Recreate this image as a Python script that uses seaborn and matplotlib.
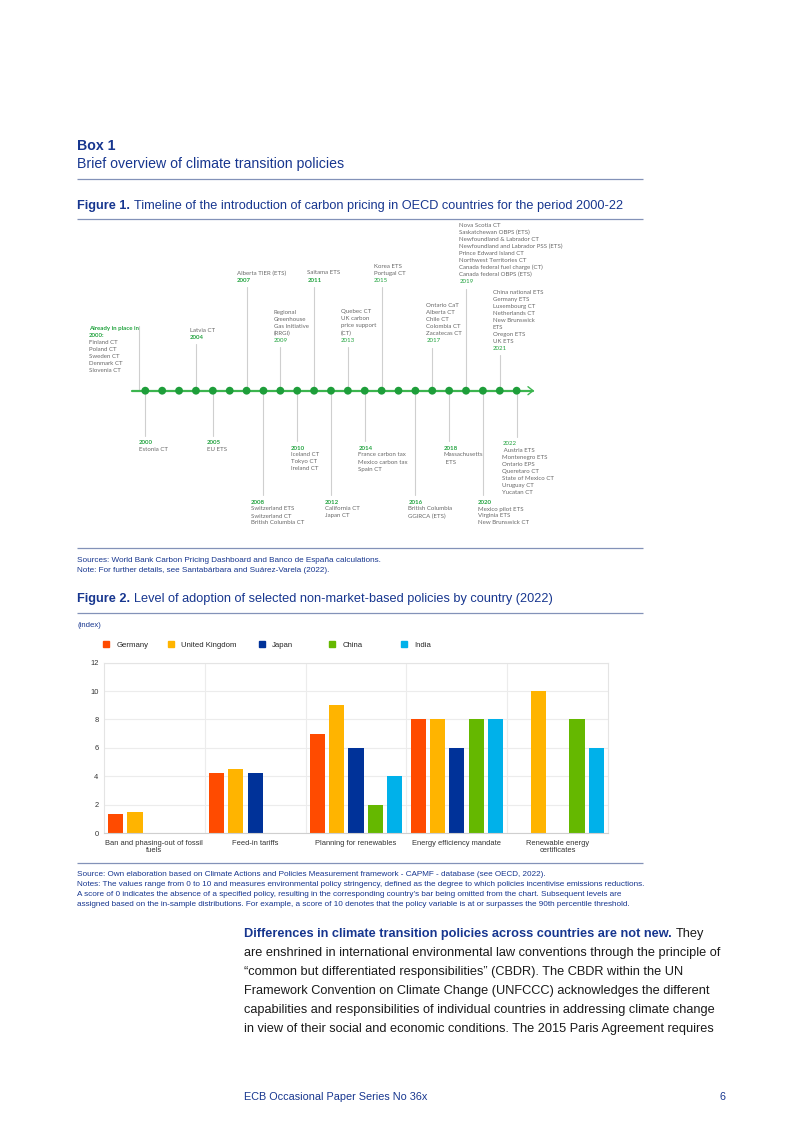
import numpy as np
import pandas as pd
import matplotlib
matplotlib.use("Agg")
import matplotlib.pyplot as plt
from matplotlib.patches import Patch
from matplotlib.legend import Legend
import seaborn as sns

W, H = 802, 1133

# ---- Figure 2 data (index, 0 = policy absent, bar omitted)
policies = ["Ban and phasing-out of fossil\nfuels", "Feed-in tariffs", "Planning for renewables",
            "Energy efficiency mandate", "Renewable energy\ncertificates"]
countries = ["Germany", "United Kingdom", "Japan", "China", "India"]
germany = [1.35, 4.25, 7, 8, 0]
united_kingdom = [1.45, 4.5, 9, 8, 10]
japan = [0, 4.25, 6, 6, 0]
china = [0, 0, 2, 8, 8]
india = [0, 0, 4, 8, 6]
country_colors = ["#FF4B00", "#FFB400", "#003299", "#65B800", "#00B1EA"]

# ---- Figure 1 data (timeline)
timeline_years = list(range(2000, 2023))
event_year = ["2000:", "2004", "2007", "2009", "2011", "2013", "2015", "2017", "2019", "2021",
              "2000", "2005", "2008", "2010", "2012", "2014", "2016", "2018", "2020", "2022"]
# dot on which each stem stands (as drawn in the original)
event_slot = [-0.4, 3, 6, 8, 10, 12, 14, 17, 19, 21,
              0, 4, 7, 9, 11, 13, 16, 18, 20, 22]
event_bold = [True, True, True, False, True, False, False, False, False, False,
              True, True, True, True, True, True, True, True, True, False]
event_schemes = [
    ["Finland CT", "Poland CT", "Sweden CT", "Denmark CT", "Slovenia CT"],
    ["Latvia CT"],
    ["Alberta TIER (ETS)"],
    ["Regional", "Greenhouse", "Gas Initiative", "(RRGI)"],
    ["Saitama ETS"],
    ["Quebec CT", "UK carbon", "price support", "(CT)"],
    ["Korea ETS", "Portugal CT"],
    ["Ontario CaT", "Alberta CT", "Chile CT", "Colombia CT", "Zacatecas CT"],
    ["Nova Scotia CT", "Saskatchewan OBPS (ETS)", "Newfoundland & Labrador CT",
     "Newfoundland and Labrador PSS (ETS)", "Prince Edward Island CT", "Northwest Territories CT",
     "Canada federal fuel charge (CT)", "Canada federal OBPS (ETS)"],
    ["China national ETS", "Germany ETS", "Luxembourg CT", "Netherlands CT", "New Brunswick",
     "ETS", "Oregon ETS", "UK ETS"],
    ["Estonia CT"],
    ["EU ETS"],
    ["Switzerland ETS", "Switzerland CT", "British Columbia CT"],
    ["Iceland CT", "Tokyo CT", "Ireland CT"],
    ["California CT", "Japan CT"],
    ["France carbon tax", "Mexico carbon tax", "Spain CT"],
    ["British Columbia", "GGIRCA (ETS)"],
    ["Massachusetts", " ETS"],
    ["Mexico pilot ETS", "Virginia ETS", "New Brunswick CT"],
    [" Austria ETS", "Montenegro ETS", "Ontario EPS", "Queretaro CT", "State of Mexico CT",
     "Uruguay CT", "Yucatan CT"],
]
# layout of the timeline labels (pixels)
label_year_y = [335.3, 337.3, 280, 340.3, 280, 340, 280, 340.7, 281.7, 348.3,
                442.7, 442.7, 502, 448, 502, 448, 502, 448, 502, 443.7]
label_dx = [-49.5, -6, -10, -6.7, -6.7, -7.3, -7.6, -6, -6.6, -7,
            -6.3, -6, -12.7, -6.7, -6, -6.3, -7, -5.6, -5, -14.4]
legend_x = [103, 168, 259, 329, 401]

sns.set_style("white")
plt.rcParams["font.family"] = ["Liberation Sans", "DejaVu Sans"]

BLUE = "#17368f"
RULE = "#8392b8"
GREEN = "#22a33f"
GREY = "#6a6a6a"

fig = plt.figure(figsize=(W / 100, H / 100), dpi=100)
page = fig.add_axes([0, 0, 1, 1])
page.set_xlim(0, W)
page.set_ylim(H, 0)
page.axis("off")
renderer = fig.canvas.get_renderer()


def line_of_parts(x, y, parts, size):
    # parts: (text, weight, color); a space is added between parts
    for i, (txt, weight, color) in enumerate(parts):
        t = page.text(x, y, txt, fontsize=size, fontweight=weight, color=color,
                      va="baseline", ha="left")
        bb = t.get_window_extent(renderer)
        x += bb.width + 0.278 * size * 100 / 72


def rule(y):
    page.plot([77, 643], [y, y], color=RULE, lw=0.9, solid_capstyle="butt")


# ---- page headings
page.text(77, 150, "Box 1", fontsize=10.2, fontweight="bold", color=BLUE, va="baseline")
page.text(77, 167.7, "Brief overview of climate transition policies", fontsize=10.2,
          color=BLUE, va="baseline")
rule(178.5)
line_of_parts(77, 209, [("Figure 1.", "bold", BLUE),
                        ("Timeline of the introduction of carbon pricing in OECD countries for the period 2000-22",
                         "normal", BLUE)], 9.2)
rule(218.5)

# ---- timeline
px_per_slot = 16.88
x0_px = 145.3
tl_y = 390.7
ax_t = fig.add_axes([77 / W, 1 - 545 / H, (643 - 77) / W, (545 - 222) / H])
ax_t.set_xlim((77 - x0_px) / px_per_slot, (643 - x0_px) / px_per_slot)
ax_t.set_ylim(545, 222)
ax_t.axis("off")

slots = np.arange(len(timeline_years))
line_end = slots[-1] + 0.97
ax_t.plot([-0.79, line_end], [tl_y, tl_y], color="#3cb54f", lw=1.6, zorder=2)
ax_t.plot([line_end - 0.3, line_end, line_end - 0.3], [tl_y - 4, tl_y, tl_y + 4],
          color="#3cb54f", lw=1.0, zorder=2)
sns.scatterplot(x=slots, y=[tl_y] * len(slots), ax=ax_t, s=32, color="#1e9e3a",
                edgecolor="none", zorder=3, legend=False)

lh = 7.0
tfont = dict(fontfamily=["Lato", "DejaVu Sans"], fontsize=4.4, va="center", ha="left")
for i, (yr, slot, bold, schemes) in enumerate(zip(event_year, event_slot, event_bold, event_schemes)):
    up = i < 10
    yy = label_year_y[i]
    tx = slot + label_dx[i] / px_per_slot
    weight = "bold" if bold else "normal"
    if i == 0:
        ax_t.plot([slot, slot], [tl_y, 326], color="#cfcfcf", lw=0.8, zorder=1)
        ax_t.text(tx, yy - lh, "Already in place in", color=GREEN, fontweight="bold", **tfont)
        ax_t.text(tx, yy, yr, color=GREEN, fontweight="bold", **tfont)
        for k, s in enumerate(schemes):
            ax_t.text(tx, yy + lh * (k + 1), s, color=GREY, **tfont)
    elif up:
        ax_t.plot([slot, slot], [tl_y, yy + 7], color="#cfcfcf", lw=0.8, zorder=1)
        ax_t.text(tx, yy, yr, color=GREEN, fontweight=weight, **tfont)
        n = len(schemes)
        for k, s in enumerate(schemes):
            ax_t.text(tx, yy - lh * (n - k), s, color=GREY, **tfont)
    else:
        ax_t.plot([slot, slot], [tl_y, yy - 7], color="#cfcfcf", lw=0.8, zorder=1)
        ax_t.text(tx, yy, yr, color=GREEN, fontweight=weight, **tfont)
        for k, s in enumerate(schemes):
            ax_t.text(tx, yy + lh * (k + 1), s, color=GREY, **tfont)

rule(548)
page.text(77, 562, "Sources: World Bank Carbon Pricing Dashboard and Banco de España calculations.",
          fontsize=5.9, color=BLUE, va="baseline")
page.text(77, 572, "Note: For further details, see Santabárbara and Suárez-Varela (2022).",
          fontsize=5.9, color=BLUE, va="baseline")

line_of_parts(77, 602, [("Figure 2.", "bold", BLUE),
                        ("Level of adoption of selected non-market-based policies by country (2022)",
                         "normal", BLUE)], 9.2)
rule(612.5)
page.text(77, 627, "(index)", fontsize=5.6, color=BLUE, va="baseline")

# ---- bar chart
df = pd.DataFrame({
    "policy": policies * len(countries),
    "country": [c for c in countries for _ in policies],
    "value": germany + united_kingdom + japan + china + india,
})
ax = fig.add_axes([104 / W, 1 - 833 / H, 504 / W, 170.3 / H])
sns.barplot(data=df, x="policy", y="value", hue="country", hue_order=countries,
            palette=country_colors, width=0.96, gap=0.22, linewidth=0, ax=ax,
            legend=False, saturation=1)
ax.set_ylim(0, 12)
ax.set_yticks(range(0, 13, 2))
ax.set_xlim(-0.5, len(policies) - 0.5)
ax.set_xlabel("")
ax.set_ylabel("")
ax.set_xticks(np.arange(len(policies) - 1) + 0.5, minor=True)
ax.grid(axis="y", color="#ececec", lw=0.8)
ax.grid(axis="x", which="minor", color="#ececec", lw=0.8)
ax.set_axisbelow(True)
for side, sp in ax.spines.items():
    sp.set_visible(True)
    sp.set_color("#e4e4e4")
    sp.set_linewidth(0.8)
ax.spines["bottom"].set_color("#cfcfcf")
ax.tick_params(axis="both", which="both", length=0, labelsize=5.4, labelcolor="#333333")
ax.tick_params(axis="y", pad=4)
ax.tick_params(axis="x", pad=5)
for lab in ax.get_xticklabels():
    lab.set_linespacing(1.1)

# legend entries placed one by one, as spaced in the original
for lx, c, n in zip(legend_x, country_colors, countries):
    leg = Legend(ax, [Patch(color=c)], [n], loc="center left",
                 bbox_to_anchor=(lx / W, 1 - 645 / H), bbox_transform=fig.transFigure,
                 frameon=False, fontsize=5.6, handlelength=0.8, handleheight=0.8,
                 handletextpad=0.9, borderaxespad=0, borderpad=0)
    ax.add_artist(leg)

rule(862.5)
notes2 = [
    "Source: Own elaboration based on Climate Actions and Policies Measurement framework - CAPMF - database (see OECD, 2022).",
    "Notes: The values range from 0 to 10 and measures environmental policy stringency, defined as the degree to which policies incentivise emissions reductions.",
    "A score of 0 indicates the absence of a specified policy, resulting in the corresponding country’s bar being omitted from the chart. Subsequent levels are",
    "assigned based on the in-sample distributions. For example, a score of 10 denotes that the policy variable is at or surpasses the 90th percentile threshold.",
]
for k, s in enumerate(notes2):
    page.text(77, 876 + k * 10.1, s, fontsize=5.9, color=BLUE, va="baseline")

# ---- body text
body = [
    "are enshrined in international environmental law conventions through the principle of",
    "“common but differentiated responsibilities” (CBDR). The CBDR within the UN",
    "Framework Convention on Climate Change (UNFCCC) acknowledges the different",
    "capabilities and responsibilities of individual countries in addressing climate change",
    "in view of their social and economic conditions. The 2015 Paris Agreement requires",
]
line_of_parts(244, 937.5, [("Differences in climate transition policies across countries are not new.", "bold", BLUE),
                           ("They", "normal", "#1a1a1a")], 9.15)
for k, s in enumerate(body):
    page.text(244, 937.5 + (k + 1) * 18.9, s, fontsize=9.15, color="#1a1a1a", va="baseline")

page.text(244, 1100, "ECB Occasional Paper Series No 36x", fontsize=7.8, color=BLUE, va="baseline")
page.text(725, 1100, "6", fontsize=7.8, color=BLUE, va="baseline", ha="right")

fig.savefig("out.png", dpi=100)
